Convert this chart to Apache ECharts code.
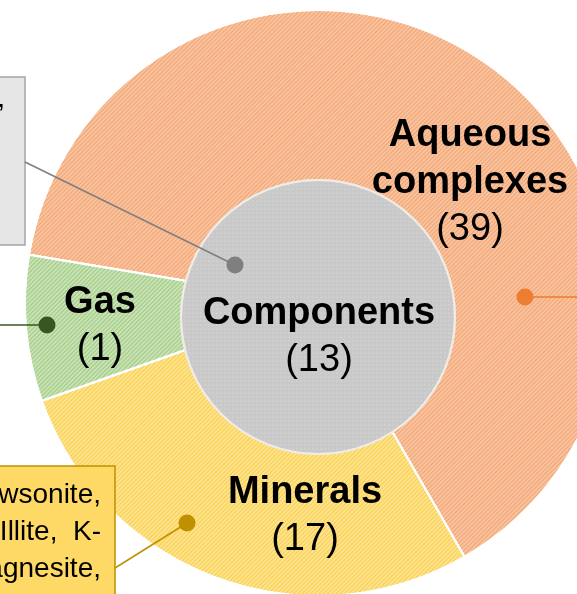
<!DOCTYPE html>
<html>
<head>
<meta charset="utf-8">
<script src="https://cdn.jsdelivr.net/npm/echarts@6/dist/echarts.min.js"></script>
<style>
  html, body { margin: 0; padding: 0; background: #fff; }
  #chart { width: 577px; height: 594px; }
</style>
</head>
<body>
<div id="chart"></div>
<script>
// outer ring, clockwise from the upper left
const categories = ['Aqueous complexes', 'Minerals', 'Gas']
const counts = [39, 17, 1]
// inner disc
const centerName = 'Components'
const centerCount = 13
// callout box texts (mostly cut off by the frame)
const greyBoxLines = ['H\u2082O, CO\u2082,']
const mineralBoxLines = ['Calcite, Dawsonite,', 'Kaolinite, Illite,  K-', 'feldspar, Magnesite,']

const FONT = '"Liberation Sans", Arial, sans-serif'
const fills = ['#F8C3A0', '#FFE38A', '#C8E2B4']
const stripes = ['rgba(237,125,49,0.45)', 'rgba(230,175,0,0.4)', 'rgba(100,165,60,0.4)']
const dotColors = ['#ED7D31', '#BF9000', '#375623']
// where the slice labels sit (label block centres)
const labelSpots = [[470, 183], [305, 516], [100, 326]]

const myChart = echarts.init(document.getElementById('chart'))

const labelRich = {
  b: { fontFamily: FONT, fontWeight: 'bold', fontSize: 38, lineHeight: 47, color: '#000' },
  v: { fontFamily: FONT, fontSize: 38, lineHeight: 47, color: '#000' }
}
const labelText = (p) =>
  p.name.split(' ').map(w => '{b|' + w + '}').join('\n') + '\n{v|(' + p.value + ')}'

const stripeDecal = (c) => ({
  symbol: 'rect',
  symbolSize: 1,
  color: c,
  dashArrayX: [1, 0],
  dashArrayY: [1, 2],
  rotation: -Math.PI / 4
})

const option = {
  animation: false,
  backgroundColor: '#fff',
  series: [
    {
      type: 'pie',
      silent: true,
      center: [318, 303],
      radius: [0, 293],
      startAngle: 170.5,
      clockwise: true,
      minAngle: 29,
      avoidLabelOverlap: false,
      itemStyle: { borderColor: '#fff', borderWidth: 2 },
      label: {
        show: true,
        position: 'inside',
        formatter: labelText,
        rich: labelRich
      },
      labelLine: { show: false },
      labelLayout: (p) => ({
        x: labelSpots[p.dataIndex][0],
        y: labelSpots[p.dataIndex][1],
        align: 'center',
        verticalAlign: 'middle'
      }),
      data: categories.map((name, i) => ({
        name,
        value: counts[i],
        itemStyle: { color: fills[i], decal: stripeDecal(stripes[i]) }
      }))
    },
    {
      type: 'pie',
      silent: true,
      center: [318, 317],
      radius: [0, 137],
      z: 3,
      itemStyle: {
        color: '#C9C9C9',
        borderColor: '#EFEBE6',
        borderWidth: 2,
        decal: {
          symbol: 'circle',
          symbolSize: 0.6,
          color: 'rgba(255,255,255,0.55)',
          dashArrayX: [2, 2],
          dashArrayY: [2, 2]
        }
      },
      label: {
        show: true,
        position: 'center',
        formatter: (p) => '{b|' + p.name + '}\n{v|(' + p.value + ')}',
        rich: labelRich
      },
      labelLayout: () => ({ x: 319, y: 337, align: 'center', verticalAlign: 'middle' }),
      labelLine: { show: false },
      data: [{ name: centerName, value: centerCount }]
    }
  ],
  graphic: [
    // grey callout box, upper left
    {
      type: 'rect', z: 100,
      shape: { x: -20, y: 77, width: 45, height: 168 },
      style: { fill: '#E7E6E6', stroke: '#A5A5A5', lineWidth: 1.5 }
    },
    {
      type: 'text', z: 101, x: 5, y: 100,
      style: {
        text: greyBoxLines.join('\n'), font: '27px ' + FONT, fill: '#000',
        align: 'right', verticalAlign: 'middle', lineHeight: 38
      }
    },
    // yellow callout box, lower left
    {
      type: 'rect', z: 100,
      shape: { x: -20, y: 466, width: 135, height: 150 },
      style: { fill: '#FFD966', stroke: '#BF9000', lineWidth: 1.5 }
    },
    {
      type: 'text', z: 101, x: 101, y: 477,
      style: {
        text: mineralBoxLines.join('\n'), font: '28px ' + FONT, fill: '#000',
        align: 'right', verticalAlign: 'top', lineHeight: 37
      }
    },
    // leader lines
    { type: 'line', z: 100, shape: { x1: 25, y1: 162, x2: 235, y2: 265 }, style: { stroke: '#7F7F7F', lineWidth: 1.5 } },
    { type: 'line', z: 100, shape: { x1: 0, y1: 325, x2: 47, y2: 325 }, style: { stroke: '#375623', lineWidth: 1.5 } },
    { type: 'line', z: 100, shape: { x1: 525, y1: 297, x2: 577, y2: 297 }, style: { stroke: '#ED7D31', lineWidth: 1.5 } },
    { type: 'line', z: 100, shape: { x1: 115, y1: 568, x2: 187, y2: 523 }, style: { stroke: '#BF9000', lineWidth: 1.5 } },
    // anchor dots
    { type: 'circle', z: 102, shape: { cx: 235, cy: 265, r: 8.5 }, style: { fill: '#7F7F7F' } },
    { type: 'circle', z: 102, shape: { cx: 47, cy: 325, r: 8.5 }, style: { fill: dotColors[2] } },
    { type: 'circle', z: 102, shape: { cx: 525, cy: 297, r: 8.5 }, style: { fill: dotColors[0] } },
    { type: 'circle', z: 102, shape: { cx: 187, cy: 523, r: 8.5 }, style: { fill: dotColors[1] } }
  ]
}

option && myChart.setOption(option)
</script>
</body>
</html>
